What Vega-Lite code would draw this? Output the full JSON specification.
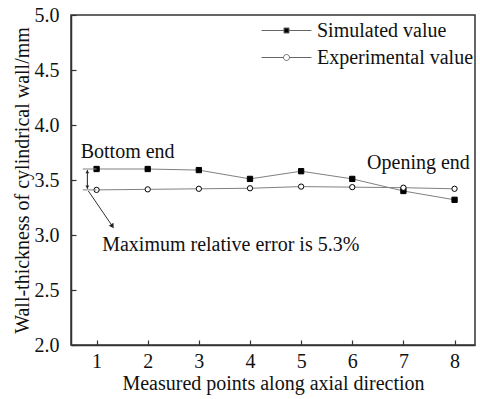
{
  "$schema": "https://vega.github.io/schema/vega-lite/v6.json",
  "width": 404,
  "height": 330,
  "autosize": {"type": "none"},
  "padding": {"left": 71, "top": 15, "right": 5, "bottom": 54},
  "background": "white",
  "config": {
    "font": "Liberation Serif",
    "view": {"stroke": "#333", "strokeWidth": 1.5},
    "text": {"font": "Liberation Serif"},
    "axis": {
      "domainColor": "#333",
      "domainWidth": 1.5,
      "tickColor": "#333",
      "tickWidth": 1.2,
      "tickSize": -5,
      "grid": false,
      "labelFont": "Liberation Serif",
      "labelFontSize": 20,
      "labelColor": "#111",
      "titleFont": "Liberation Serif",
      "titleFontSize": 20,
      "titleFontWeight": "normal",
      "titleColor": "#111"
    }
  },
  "datasets": {
    "thickness": [
      {"point": 1, "thickness": 3.60, "series": "Simulated value"},
      {"point": 2, "thickness": 3.60, "series": "Simulated value"},
      {"point": 3, "thickness": 3.59, "series": "Simulated value"},
      {"point": 4, "thickness": 3.51, "series": "Simulated value"},
      {"point": 5, "thickness": 3.58, "series": "Simulated value"},
      {"point": 6, "thickness": 3.51, "series": "Simulated value"},
      {"point": 7, "thickness": 3.40, "series": "Simulated value"},
      {"point": 8, "thickness": 3.32, "series": "Simulated value"},
      {"point": 1, "thickness": 3.41, "series": "Experimental value"},
      {"point": 2, "thickness": 3.415, "series": "Experimental value"},
      {"point": 3, "thickness": 3.42, "series": "Experimental value"},
      {"point": 4, "thickness": 3.425, "series": "Experimental value"},
      {"point": 5, "thickness": 3.44, "series": "Experimental value"},
      {"point": 6, "thickness": 3.435, "series": "Experimental value"},
      {"point": 7, "thickness": 3.43, "series": "Experimental value"},
      {"point": 8, "thickness": 3.42, "series": "Experimental value"}
    ],
    "note": [{"label": "annotation"}]
  },
  "layer": [
    {
      "data": {"name": "thickness"},
      "encoding": {
        "x": {
          "field": "point",
          "type": "quantitative",
          "scale": {"domain": [0.5, 8.4], "nice": false, "zero": false},
          "axis": {
            "title": "Measured points along axial direction",
            "values": [1, 2, 3, 4, 5, 6, 7, 8],
            "format": "d",
            "labelPadding": 11,
            "titlePadding": 2
          }
        },
        "y": {
          "field": "thickness",
          "type": "quantitative",
          "scale": {"domain": [2, 5], "nice": false, "zero": false},
          "axis": {
            "title": "Wall-thickness of cylindrical wall/mm",
            "values": [2, 2.5, 3, 3.5, 4, 4.5, 5],
            "format": ".1f",
            "labelPadding": 17,
            "titlePadding": 2
          }
        }
      },
      "layer": [
        {
          "mark": {"type": "line", "color": "#808080", "strokeWidth": 1},
          "encoding": {"detail": {"field": "series"}}
        },
        {
          "transform": [{"filter": "false"}],
          "mark": {"type": "point", "size": 576, "strokeWidth": 1, "stroke": "#666", "opacity": 1},
          "encoding": {
            "shape": {
              "field": "series",
              "type": "nominal",
              "scale": {
                "domain": ["Simulated value", "Experimental value"],
                "range": [
                  "M-2.08,0H-0.21M0.21,0H2.08M-0.21,-0.21H0.21V0.21H-0.21Z",
                  "M-2.08,0H-0.25M0.25,0H2.08M0.25,0A0.25,0.25 0 1,1 -0.25,0A0.25,0.25 0 1,1 0.25,0Z"
                ]
              },
              "legend": {
                "title": null,
                "orient": "none",
                "legendX": 203,
                "legendY": 3,
                "symbolSize": 576,
                "symbolStrokeWidth": 1,
                "labelFont": "Liberation Serif",
                "labelFontSize": 20,
                "labelColor": "#111",
                "labelOffset": 18,
                "rowPadding": 4,
                "encode": {
                  "symbols": {
                    "update": {
                      "stroke": {"value": "#666"},
                      "strokeWidth": {"value": 1},
                      "opacity": {"value": 1}
                    }
                  }
                }
              }
            },
            "fill": {
              "field": "series",
              "type": "nominal",
              "scale": {"domain": ["Simulated value", "Experimental value"], "range": ["#000", "#fff"]},
              "legend": null
            }
          }
        },
        {
          "transform": [{"filter": "datum.series === 'Simulated value'"}],
          "mark": {"type": "point", "shape": "square", "size": 28, "strokeWidth": 1, "stroke": "#000", "fill": "#000", "opacity": 1}
        },
        {
          "transform": [{"filter": "datum.series === 'Experimental value'"}],
          "mark": {"type": "point", "shape": "circle", "size": 28, "strokeWidth": 1, "stroke": "#000", "fill": "#fff", "filled": true, "opacity": 1}
        }
      ]
    },
    {
      "data": {"name": "note"},
      "layer": [
        {
          "mark": {"type": "rule", "color": "#808080", "strokeWidth": 1},
          "encoding": {"x": {"datum": 0.73, "type": "quantitative"}, "x2": {"datum": 1}, "y": {"datum": 3.60, "type": "quantitative"}}
        },
        {
          "mark": {"type": "rule", "color": "#808080", "strokeWidth": 1},
          "encoding": {"x": {"datum": 0.73, "type": "quantitative"}, "x2": {"datum": 1}, "y": {"datum": 3.41, "type": "quantitative"}}
        },
        {
          "mark": {"type": "rule", "color": "#222", "strokeWidth": 1},
          "encoding": {"x": {"datum": 0.82, "type": "quantitative"}, "y": {"datum": 3.59, "type": "quantitative"}, "y2": {"datum": 3.42}}
        },
        {
          "mark": {"type": "point", "shape": "triangle-up", "size": 14, "filled": true, "color": "#222", "opacity": 1},
          "encoding": {"x": {"datum": 0.82, "type": "quantitative"}, "y": {"datum": 3.575, "type": "quantitative"}}
        },
        {
          "mark": {"type": "point", "shape": "triangle-down", "size": 14, "filled": true, "color": "#222", "opacity": 1},
          "encoding": {"x": {"datum": 0.82, "type": "quantitative"}, "y": {"datum": 3.435, "type": "quantitative"}}
        },
        {
          "mark": {"type": "rule", "color": "#333", "strokeWidth": 1},
          "encoding": {"x": {"datum": 0.84, "type": "quantitative"}, "y": {"datum": 3.40, "type": "quantitative"}, "x2": {"datum": 1.31}, "y2": {"datum": 3.08}}
        },
        {
          "mark": {"type": "point", "shape": "triangle-up", "size": 30, "angle": 147, "filled": true, "color": "#222", "opacity": 1},
          "encoding": {"x": {"datum": 1.31, "type": "quantitative"}, "y": {"datum": 3.08, "type": "quantitative"}}
        },
        {
          "mark": {"type": "text", "text": "Bottom end", "align": "left", "baseline": "middle", "font": "Liberation Serif", "fontSize": 20, "fill": "#111"},
          "encoding": {"x": {"datum": 0.69, "type": "quantitative"}, "y": {"datum": 3.755, "type": "quantitative"}}
        },
        {
          "mark": {"type": "text", "text": "Opening end", "align": "left", "baseline": "middle", "font": "Liberation Serif", "fontSize": 20, "fill": "#111"},
          "encoding": {"x": {"datum": 6.29, "type": "quantitative"}, "y": {"datum": 3.655, "type": "quantitative"}}
        },
        {
          "mark": {"type": "text", "text": "Maximum relative error is 5.3%", "align": "left", "baseline": "middle", "font": "Liberation Serif", "fontSize": 20, "fill": "#111"},
          "encoding": {"x": {"datum": 1.11, "type": "quantitative"}, "y": {"datum": 2.91, "type": "quantitative"}}
        }
      ]
    }
  ]
}
